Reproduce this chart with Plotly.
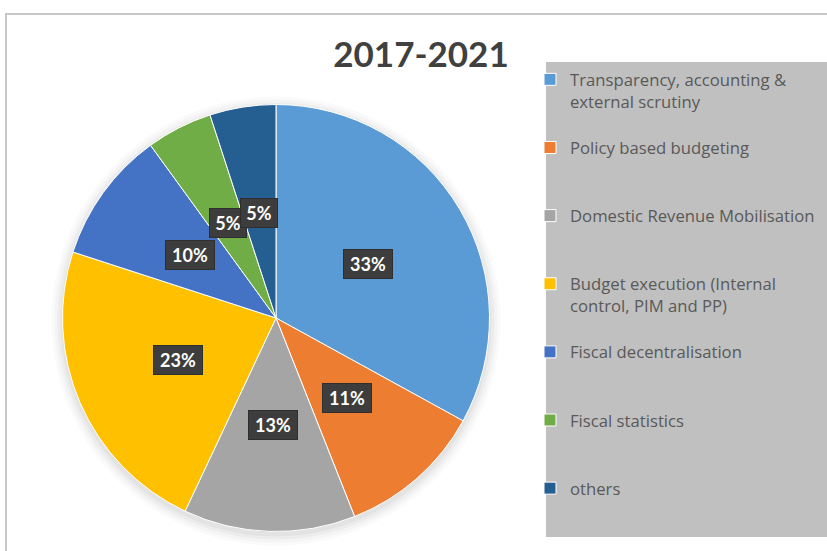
import math
import plotly.graph_objects as go

# Share of technical assistance by area, 2017-2021
categories = [
    "Transparency, accounting &<br>external scrutiny",
    "Policy based budgeting",
    "Domestic Revenue Mobilisation",
    "Budget execution (Internal<br>control, PIM and PP)",
    "Fiscal decentralisation",
    "Fiscal statistics",
    "others",
]
shares = [33, 11, 13, 23, 10, 5, 5]
colors = ["#5B9BD5", "#ED7D31", "#A5A5A5", "#FFC000", "#4472C4", "#70AD47", "#255E91"]
title_text = "2017-2021"

W, H = 827, 551
CX, CY, R = 276.0, 318.0, 213.5  # pie centre (px from top-left) and radius

dom_x = [(CX - R) / W, (CX + R) / W]
dom_y = [(H - CY - R) / H, (H - CY + R) / H]


def pad_lines(label, n=3):
    k = label.count("<br>") + 1
    return label + "<br>\u00a0" * max(0, n - k)


# every legend entry takes the same height so entries sit evenly spaced
legend_labels = [pad_lines(c) for c in categories[:-1]] + [categories[-1]]

fig = go.Figure(
    go.Pie(
        labels=legend_labels,
        values=shares,
        sort=False,
        direction="clockwise",
        rotation=0,
        marker=dict(colors=colors, line=dict(color="white", width=1)),
        textinfo="none",
        hoverinfo="label+percent",
        domain=dict(x=dom_x, y=dom_y),
    )
)

# data labels: dark boxes placed halfway along each slice's bisector
total = sum(shares)
annotations = []
cum = 0.0
for v in shares:
    mid = (cum + v / 2) / total * 2 * math.pi
    cum += v
    px = CX + 0.5 * R * math.sin(mid)
    py = CY - 0.5 * R * math.cos(mid)
    pct = f"{round(100 * v / total)}%"
    annotations.append(dict(
        text=pct, x=px / W, y=(H - py) / H, xref="paper", yref="paper",
        xanchor="center", yanchor="middle",
        showarrow=False, borderpad=0, width=48 if len(pct) > 2 else 36, height=28,
        bgcolor="#3d3d3d", bordercolor="#2e2e2e", borderwidth=1,
        font=dict(family="Lato", size=18, color="white", weight="bold"),
    ))

shapes = []
# soft shadow under the pie
for i, a in enumerate([0.035, 0.03, 0.025, 0.02]):
    rr = R + 2 + 3 * i
    shapes.append(dict(
        type="circle", xref="paper", yref="paper", layer="below",
        x0=(CX - rr) / W, x1=(CX + rr) / W,
        y0=(H - CY - 3 - rr) / H, y1=(H - CY - 3 + rr) / H,
        fillcolor=f"rgba(0,0,0,{a})", line=dict(width=0),
    ))
# legend panel
shapes.append(dict(
    type="rect", xref="paper", yref="paper", layer="below",
    x0=546 / W, x1=1.02, y0=(H - 537) / H, y1=(H - 62) / H,
    fillcolor="#c0c0c0", line=dict(width=0),
))
# chart frame
shapes.append(dict(
    type="rect", xref="paper", yref="paper", layer="below",
    x0=6 / W, x1=1.02, y0=-0.02, y1=(H - 14) / H,
    fillcolor="rgba(0,0,0,0)", line=dict(color="#c8c8c8", width=2),
))

fig.update_layout(
    width=W, height=H,
    margin=dict(l=0, r=0, t=0, b=0),
    paper_bgcolor="white",
    plot_bgcolor="white",
    title=dict(
        text=title_text, x=421 / W, xanchor="center", y=(H - 55) / H, yanchor="middle",
        font=dict(family="Lato", size=35, color="#404040", weight="bold"),
    ),
    legend=dict(
        x=530 / W, xanchor="left", y=(H - 62) / H, yanchor="top",
        bgcolor="rgba(0,0,0,0)", valign="top",
        font=dict(family="Open Sans", size=16.7, color="#595959"),
    ),
    shapes=shapes,
    annotations=annotations,
)

fig.write_html("out.html")
